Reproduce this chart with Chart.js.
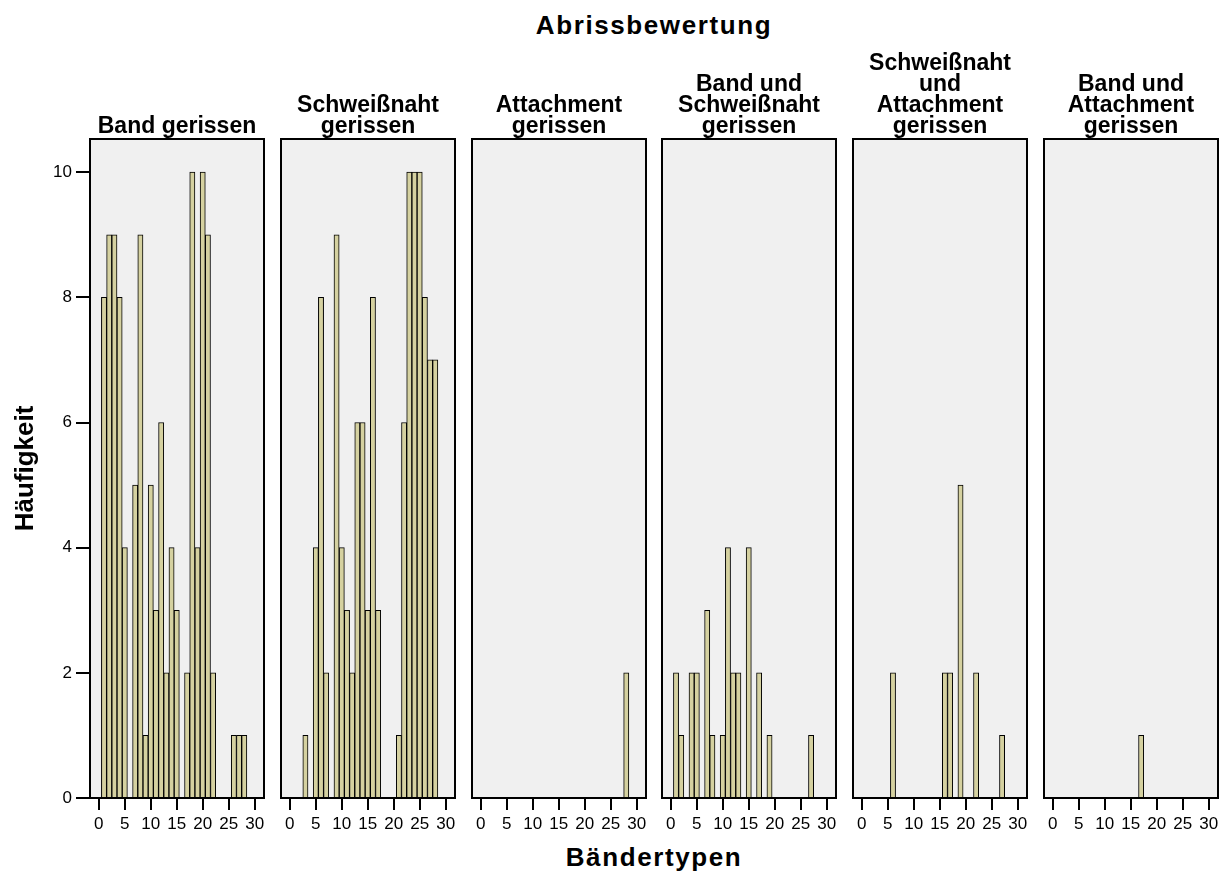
<!DOCTYPE html>
<html lang="de">
<head>
  <meta charset="UTF-8">
  <title>Abrissbewertung</title>
  <script src="https://cdn.jsdelivr.net/npm/chart.js@4.4.0/dist/chart.umd.min.js"></script>
  <style>
    body { margin: 0; background: #fff; }
    #wrap { position: relative; width: 1231px; height: 872px; font-family: 'Liberation Sans', Arial, sans-serif; }
    #wrap canvas { position: absolute; top: 0; }
    .axis-title { position: absolute; left: 90px; width: 1128px; text-align: center; font-weight: bold;
                  font-size: 26px; line-height: 30px; letter-spacing: 1.6px; color: #000; }
  </style>
</head>
<body>

  <div id="wrap">
    <div class="axis-title" style="top:10px">Abrissbewertung</div>
    <div class="axis-title" style="top:842px">Bändertypen</div>
  </div>

  <script>
    // Bändertypen (x-Achse)
    const bandTypes = [1, 2, 3, 4, 5, 6, 7, 8, 9, 10, 11, 12, 13, 14, 15, 16, 17, 18, 19, 20, 21, 22, 23, 24, 25, 26, 27, 28];

    // Häufigkeiten je Abrissbewertung
    const bandGerissen          = [8, 9, 9, 8, 4, 0, 5, 9, 1, 5, 3, 6, 2, 4, 3, 0, 2, 10, 4, 10, 9, 2, 0, 0, 0, 1, 1, 1];
    const schweissnahtGerissen  = [0, 0, 1, 0, 4, 8, 2, 0, 9, 4, 3, 2, 6, 6, 3, 8, 3, 0, 0, 0, 1, 6, 10, 10, 10, 8, 7, 7];
    const attachmentGerissen    = [0, 0, 0, 0, 0, 0, 0, 0, 0, 0, 0, 0, 0, 0, 0, 0, 0, 0, 0, 0, 0, 0, 0, 0, 0, 0, 0, 2];
    const bandSchweissnaht      = [2, 1, 0, 2, 2, 0, 3, 1, 0, 1, 4, 2, 2, 0, 4, 0, 2, 0, 1, 0, 0, 0, 0, 0, 0, 0, 1, 0];
    const schweissnahtAttach    = [0, 0, 0, 0, 0, 2, 0, 0, 0, 0, 0, 0, 0, 0, 0, 2, 2, 0, 5, 0, 0, 2, 0, 0, 0, 0, 1, 0];
    const bandAttachment        = [0, 0, 0, 0, 0, 0, 0, 0, 0, 0, 0, 0, 0, 0, 0, 0, 1, 0, 0, 0, 0, 0, 0, 0, 0, 0, 0, 0];

    const panelTitles = [
      ['Band gerissen'],
      ['Schweißnaht', 'gerissen'],
      ['Attachment', 'gerissen'],
      ['Band und', 'Schweißnaht', 'gerissen'],
      ['Schweißnaht', 'und', 'Attachment', 'gerissen'],
      ['Band und', 'Attachment', 'gerissen'],
    ];
    const panelCounts = [bandGerissen, schweissnahtGerissen, attachmentGerissen,
                         bandSchweissnaht, schweissnahtAttach, bandAttachment];

    const FONT = "'Liberation Sans', Arial, sans-serif";
    const panelLeft = [0, 271, 462, 652, 843, 1034];

    // grauer Plotbereich mit schwarzem Rahmen
    const framePlugin = {
      id: 'frame',
      beforeDraw(chart) {
        const { ctx, chartArea: a } = chart;
        ctx.save();
        ctx.fillStyle = '#f0f0f0';
        ctx.fillRect(a.left, a.top, a.width, a.height);
        ctx.restore();
      },
      afterDatasetsDraw(chart) {
        const { ctx, chartArea: a } = chart;
        ctx.save();
        ctx.strokeStyle = '#000';
        ctx.lineWidth = 2;
        ctx.strokeRect(a.left, a.top, a.width, a.height);
        ctx.restore();
      }
    };

    const wrap = document.getElementById('wrap');

    panelCounts.forEach((counts, i) => {
      const first = i === 0;
      const canvas = document.createElement('canvas');
      canvas.width = first ? 274 : 194;
      canvas.height = 838;
      canvas.style.left = panelLeft[i] + 'px';
      wrap.appendChild(canvas);

      // alle Titel auf 4 Zeilen auffüllen, damit die Plotbereiche gleich hoch sind
      const lines = panelTitles[i].slice();
      while (lines.length < 4) lines.unshift('');

      new Chart(canvas, {
        type: 'bar',
        data: {
          labels: bandTypes,
          datasets: [{
            data: counts.map(v => v || null),
            backgroundColor: '#d5d1a0',
            borderColor: '#000',
            borderWidth: 1,
            barPercentage: 1,
            categoryPercentage: 1,
          }],
        },
        options: {
          responsive: false,
          animation: false,
          events: [],
          layout: { padding: { left: first ? 0 : 10, right: 10, top: 0, bottom: 0 } },
          plugins: {
            legend: { display: false },
            tooltip: { enabled: false },
            title: {
              display: true,
              text: lines,
              fullSize: false,
              color: '#000',
              font: { family: FONT, size: 23, weight: 'bold', lineHeight: '21px' },
              padding: { top: 53, bottom: 2 },
            },
          },
          scales: {
            x: {
              type: 'linear',
              min: -1.7,
              max: 31.8,
              offset: false,
              grid: { display: true, drawOnChartArea: false, drawTicks: true, tickLength: 12,
                      lineWidth: 2, color: '#000', tickColor: '#000', offset: false },
              border: { display: false },
              ticks: { stepSize: 5, includeBounds: false, autoSkip: false, maxRotation: 0,
                       padding: 4, color: '#000', font: { family: FONT, size: 17 } },
              afterFit: (s) => { s.height = 40; },
            },
            y: {
              display: first,
              min: 0,
              max: 10.53,
              grid: { display: true, drawOnChartArea: false, drawTicks: true, tickLength: 14,
                      lineWidth: 2, color: '#000', tickColor: '#000' },
              border: { display: false },
              ticks: { stepSize: 2, includeBounds: false, padding: 4, color: '#000',
                       font: { family: FONT, size: 17 } },
              title: {
                display: first,
                text: 'Häufigkeit',
                color: '#000',
                font: { family: FONT, size: 26, weight: 'bold' },
                padding: { top: 10, bottom: 0 },
              },
              afterFit: (s) => { if (first) s.width = 90; },
            },
          },
        },
        plugins: [framePlugin],
      });
    });
  </script>
</body>
</html>
